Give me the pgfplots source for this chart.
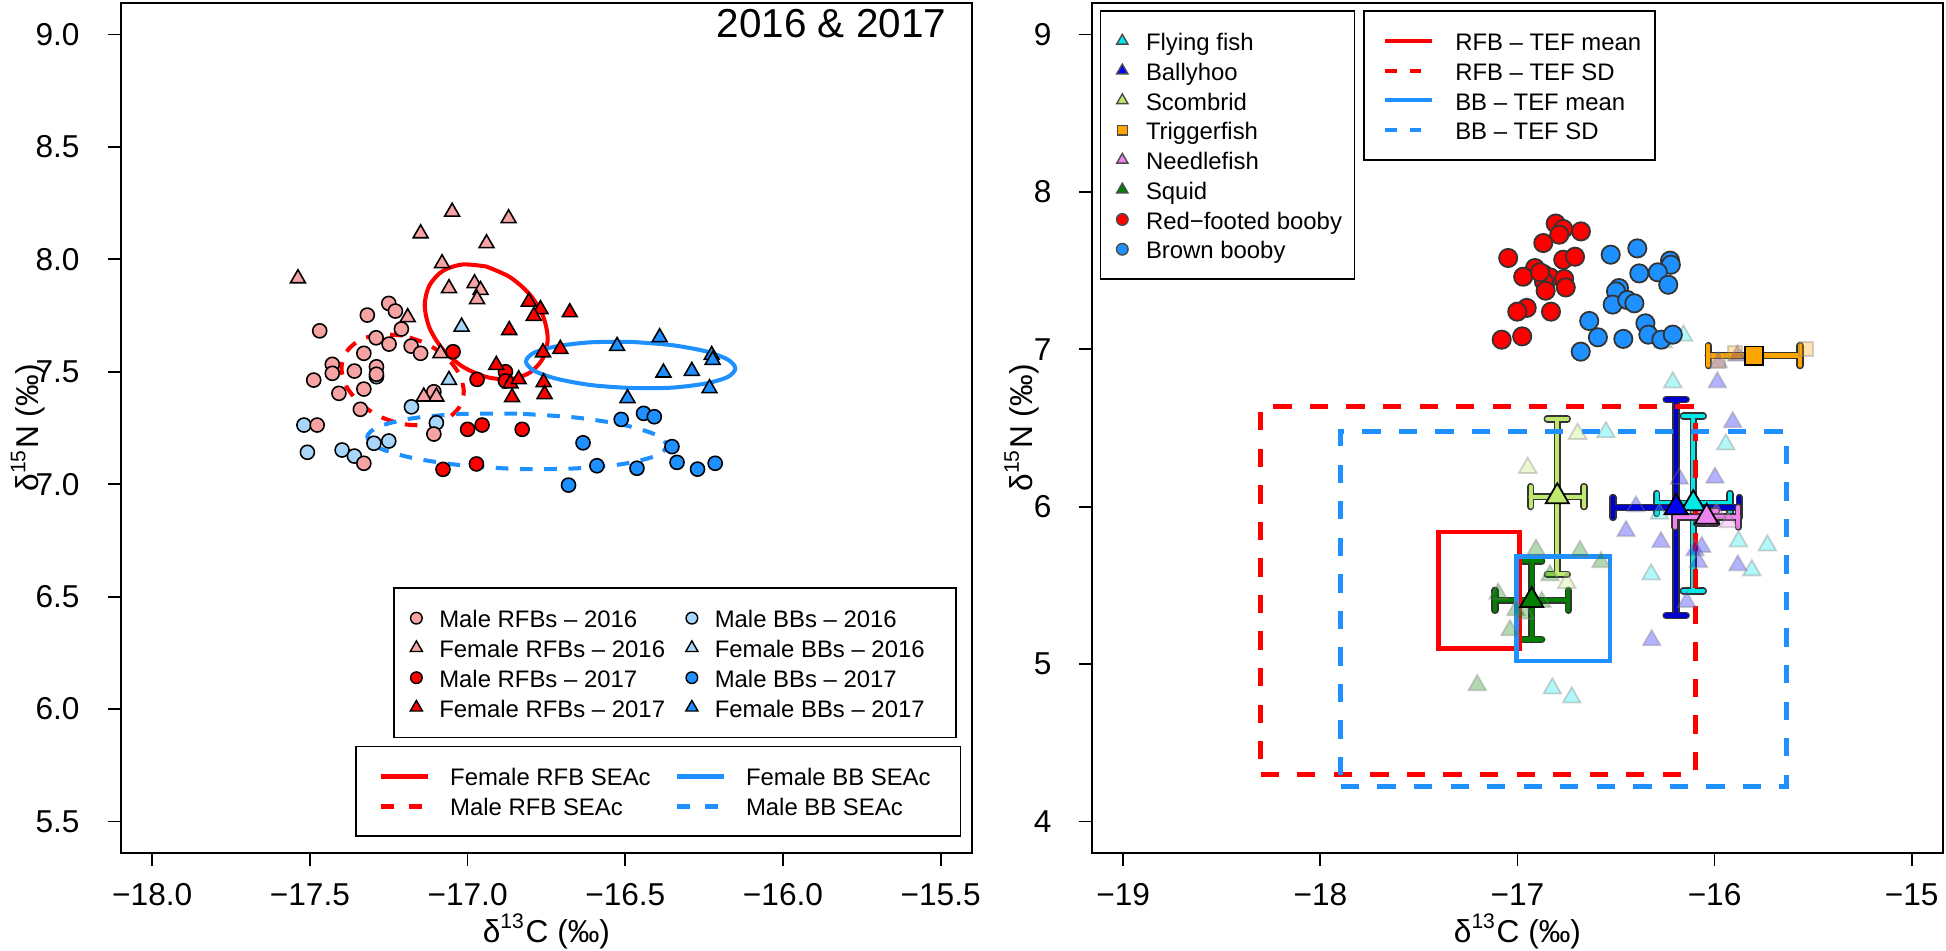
\documentclass[border=0pt]{standalone}
\usepackage{fontspec}
\setmainfont{Liberation Sans}
\usepackage{pgfplots}
\pgfplotsset{compat=1.18}
\definecolor{pinkc}{RGB}{248,163,163}
\definecolor{lblue}{RGB}{168,214,250}
\definecolor{dblue}{RGB}{30,144,255}
\definecolor{ffish}{RGB}{0,232,232}
\definecolor{bally}{RGB}{0,0,255}
\definecolor{ballyd}{RGB}{0,0,205}
\definecolor{scomb}{RGB}{190,232,110}
\definecolor{trig}{RGB}{255,165,0}
\definecolor{needle}{RGB}{238,130,238}
\definecolor{squid}{RGB}{0,128,0}
\newcommand\lstrut{\rule[-0.075cm]{0pt}{0.32cm}}
\pgfplotsset{
  panel/.style={scale only axis, width=8.515cm, height=8.5cm, anchor=south west,
    tick align=outside, major tick length=0.13cm, xtick pos=left, ytick pos=left,
    axis line style={line width=0.5pt}, tick style={line width=0.5pt, black},
    tick label style={font=\fontsize{9}{10}\selectfont},
    label style={font=\fontsize{9}{10}\selectfont},
    xticklabel style={anchor=base, inner sep=0pt, yshift=-0.40cm},
    yticklabel style={anchor=east, inner sep=0pt, xshift=-0.275cm},
    xlabel style={at={(axis description cs:0.5,-0.105)}, anchor=base},
  },
  legaxis/.style={scale only axis, width=8.515cm, height=8.5cm, anchor=south west,
    hide axis, xmin=0, xmax=1, ymin=0, ymax=1,
    legend cell align=left,
    legend style={draw=black, line width=0.45pt, fill=white, outer sep=0pt,
      column sep=0pt, row sep=0pt, font=\fontsize{6.8}{7}\selectfont, nodes={inner sep=0pt}}},
  m16/.style={only marks, mark=*, mark size=2.0pt, mark options={fill=#1, draw=black, line width=0.45pt}},
  t16/.style={only marks, mark=triangle*, mark size=2.45pt, mark options={fill=#1, draw=black, line width=0.45pt}},
  indiv/.style={only marks, mark=triangle*, mark size=2.9pt, mark options={fill=#1, fill opacity=0.3, draw=black!50, draw opacity=0.35, line width=0.5pt}},
  ebk/.style={black!80, line width=2.1pt, line cap=round, unbounded coords=jump, mark=none, forget plot},
  ecol/.style={#1, line width=1.2pt, line cap=round, unbounded coords=jump, mark=none, forget plot},
  meanm/.style={only marks, mark=triangle*, mark size=3.8pt, mark options={fill=#1, draw=black, line width=0.5pt}},
}
\begin{document}
\begin{tikzpicture}
\path[use as bounding box] (0,0) rectangle (19.46,9.51);

% ================= LEFT PANEL =================
\begin{axis}[panel, at={(1.207cm,0.98cm)},
  xmin=-18.1, xmax=-15.4, ymin=5.36, ymax=9.14,
  xtick={-18,-17.5,-17,-16.5,-16,-15.5}, xticklabels={−18.0,−17.5,−17.0,−16.5,−16.0,−15.5},
  ytick={5.5,6,6.5,7,7.5,8,8.5,9}, yticklabels={5.5,6.0,6.5,7.0,7.5,8.0,8.5,9.0},
  xlabel={δ\textsuperscript{13}C (‰)}, ylabel={δ\textsuperscript{15}N (‰)},
  ylabel style={at={(axis description cs:-0.1088,0.5)}, anchor=center},
  title={2016 \& 2017}, title style={at={(axis description cs:0.9702,0.9506)}, anchor=east, inner sep=0pt, font=\fontsize{11.5}{12}\selectfont},
]
% SEAc ellipses
\addplot[red, line width=1.15pt, smooth, forget plot] coordinates {
(-16.941,7.968) (-17.016,7.977) (-17.079,7.948) (-17.121,7.884) (-17.136,7.796) (-17.121,7.696)
(-17.079,7.600) (-17.016,7.523) (-16.941,7.477) (-16.866,7.467) (-16.803,7.496) (-16.761,7.560)
(-16.746,7.648) (-16.761,7.748) (-16.803,7.844) (-16.866,7.921) (-16.941,7.968)};
\addplot[dblue, line width=1.15pt, smooth, forget plot] coordinates {
(-16.483,7.633) (-16.610,7.631) (-16.718,7.613) (-16.790,7.584) (-16.815,7.546) (-16.790,7.505)
(-16.718,7.469) (-16.610,7.441) (-16.483,7.428) (-16.356,7.429) (-16.248,7.447) (-16.176,7.476)
(-16.151,7.515) (-16.176,7.555) (-16.248,7.592) (-16.356,7.619) (-16.483,7.633)};
\addplot[red, line width=1.15pt, smooth, dash pattern=on 3.6pt off 3.3pt, forget plot] coordinates {
(-17.206,7.661) (-17.280,7.665) (-17.343,7.640) (-17.385,7.587) (-17.400,7.516) (-17.385,7.437)
(-17.343,7.362) (-17.280,7.302) (-17.206,7.268) (-17.132,7.263) (-17.069,7.288) (-17.027,7.341)
(-17.012,7.412) (-17.027,7.491) (-17.069,7.566) (-17.132,7.626) (-17.206,7.661)};
\addplot[dblue, line width=1.15pt, smooth, dash pattern=on 3.6pt off 3.3pt, forget plot] coordinates {
(-16.843,7.314) (-17.025,7.312) (-17.179,7.292) (-17.282,7.256) (-17.318,7.211) (-17.282,7.162)
(-17.179,7.118) (-17.025,7.085) (-16.843,7.068) (-16.661,7.070) (-16.507,7.090) (-16.404,7.126)
(-16.368,7.171) (-16.404,7.220) (-16.507,7.264) (-16.661,7.297) (-16.843,7.314)};
% Male BBs 2016
\addplot[m16=lblue] coordinates {(-17.289,7.478) (-17.178,7.344) (-17.519,7.263) (-17.099,7.273) (-17.250,7.192) (-17.297,7.182) (-17.508,7.142) (-17.398,7.152) (-17.359,7.125)};
% Male RFBs 2016
\addplot[m16=pinkc] coordinates {(-17.250,7.804) (-17.229,7.770) (-17.318,7.752) (-17.469,7.682) (-17.210,7.690) (-17.290,7.651) (-17.249,7.623) (-17.179,7.614) (-17.149,7.582) (-17.329,7.582) (-17.429,7.533) (-17.289,7.522) (-17.359,7.503) (-17.429,7.493) (-17.488,7.463) (-17.289,7.489) (-17.329,7.423) (-17.408,7.404) (-17.107,7.411) (-17.340,7.333) (-17.477,7.263) (-17.107,7.223) (-17.329,7.093)};
% Female RFBs 2016
\addplot[t16=pinkc] coordinates {(-17.049,8.211) (-16.870,8.182) (-17.149,8.115) (-16.940,8.071) (-17.081,7.982) (-17.538,7.915) (-17.059,7.871) (-16.978,7.893) (-16.959,7.863) (-16.970,7.822) (-17.190,7.742) (-17.086,7.582) (-17.139,7.389) (-17.099,7.389)};
% Female BBs 2016
\addplot[t16=lblue] coordinates {(-17.019,7.700) (-17.059,7.463)};
% Male RFBs 2017
\addplot[m16=red] coordinates {(-17.046,7.589) (-16.970,7.466) (-16.880,7.500) (-16.880,7.459) (-17.000,7.244) (-16.954,7.263) (-16.827,7.244) (-17.078,7.066) (-16.972,7.090)};
% Male BBs 2017
\addplot[m16=dblue] coordinates {(-16.513,7.288) (-16.442,7.315) (-16.408,7.300) (-16.634,7.184) (-16.352,7.167) (-16.336,7.097) (-16.590,7.082) (-16.463,7.071) (-16.271,7.067) (-16.215,7.093) (-16.680,6.996)};
% Female RFBs 2017
\addplot[t16=red] coordinates {(-16.868,7.685) (-16.909,7.530) (-16.864,7.448) (-16.859,7.386) (-16.806,7.811) (-16.769,7.778) (-16.790,7.748) (-16.676,7.764) (-16.761,7.586) (-16.706,7.601) (-16.838,7.466) (-16.759,7.453) (-16.756,7.400)};
% Female BBs 2017
\addplot[t16=dblue] coordinates {(-16.526,7.614) (-16.391,7.653) (-16.226,7.574) (-16.223,7.552) (-16.379,7.496) (-16.289,7.503) (-16.233,7.426) (-16.493,7.382)};
\end{axis}

% left legend 1 (points)
\begin{axis}[legaxis, at={(1.207cm,0.98cm)}, legend columns=2,
  legend style={at={(axis description cs:0.3207,0.3114)}, anchor=north west, inner xsep=0.126cm, inner ysep=0.15cm},
  legend image code/.code={\path[draw=none,fill=none] (0cm,-0.05cm) rectangle (0.329cm,0.05cm); \draw[#1] plot coordinates {(0.1cm,0cm)};}]
\addlegendimage{mark=*, mark size=1.65pt, mark options={fill=pinkc, draw=black, line width=0.4pt}}
\addlegendentry{\makebox[2.426cm][l]{\lstrut Male RFBs – 2016}}
\addlegendimage{mark=*, mark size=1.65pt, mark options={fill=lblue, draw=black, line width=0.4pt}}
\addlegendentry{\makebox[2.285cm][l]{\lstrut Male BBs – 2016}}
\addlegendimage{mark=triangle*, mark size=2.0pt, mark options={fill=pinkc, draw=black, line width=0.4pt}}
\addlegendentry{\makebox[2.426cm][l]{\lstrut Female RFBs – 2016}}
\addlegendimage{mark=triangle*, mark size=2.0pt, mark options={fill=lblue, draw=black, line width=0.4pt}}
\addlegendentry{\makebox[2.285cm][l]{\lstrut Female BBs – 2016}}
\addlegendimage{mark=*, mark size=1.65pt, mark options={fill=red, draw=black, line width=0.4pt}}
\addlegendentry{\makebox[2.426cm][l]{\lstrut Male RFBs – 2017}}
\addlegendimage{mark=*, mark size=1.65pt, mark options={fill=dblue, draw=black, line width=0.4pt}}
\addlegendentry{\makebox[2.285cm][l]{\lstrut Male BBs – 2017}}
\addlegendimage{mark=triangle*, mark size=2.0pt, mark options={fill=red, draw=black, line width=0.4pt}}
\addlegendentry{\makebox[2.426cm][l]{\lstrut Female RFBs – 2017}}
\addlegendimage{mark=triangle*, mark size=2.0pt, mark options={fill=dblue, draw=black, line width=0.4pt}}
\addlegendentry{\makebox[2.285cm][l]{\lstrut Female BBs – 2017}}
\end{axis}

% left legend 2 (lines)
\begin{axis}[legaxis, at={(1.207cm,0.98cm)}, legend columns=2,
  legend style={at={(axis description cs:0.2762,0.1253)}, anchor=north west, inner xsep=0.223cm, inner ysep=0.15cm},
  legend image code/.code={\path[draw=none,fill=none] (0cm,-0.05cm) rectangle (0.695cm,0.05cm); \draw[#1] (0cm,0cm) -- (0.472cm,0cm);}]
\addlegendimage{red, line width=1.4pt}
\addlegendentry{\makebox[2.239cm][l]{\lstrut Female RFB SEAc}}
\addlegendimage{dblue, line width=1.4pt}
\addlegendentry{\makebox[1.92cm][l]{\lstrut Female BB SEAc}}
\addlegendimage{red, line width=1.4pt, dash pattern=on 3.8pt off 4.3pt}
\addlegendentry{\makebox[2.239cm][l]{\lstrut Male RFB SEAc}}
\addlegendimage{dblue, line width=1.4pt, dash pattern=on 3.8pt off 4.3pt}
\addlegendentry{\makebox[1.92cm][l]{\lstrut Male BB SEAc}}
\end{axis}

% ================= RIGHT PANEL =================
\begin{axis}[panel, at={(10.917cm,0.98cm)},
  xmin=-19.16, xmax=-14.84, ymin=3.8, ymax=9.2,
  xtick={-19,-18,-17,-16,-15}, xticklabels={−19,−18,−17,−16,−15},
  ytick={4,5,6,7,8,9}, yticklabels={4,5,6,7,8,9},
  yticklabel style={xshift=0.01cm},
  xlabel={δ\textsuperscript{13}C (‰)}, ylabel={δ\textsuperscript{15}N (‰)},
  ylabel style={at={(axis description cs:-0.0822,0.5)}, anchor=center},
]
% individual prey samples
\addplot[indiv=squid] coordinates {(-16.906,5.727) (-16.683,5.718) (-16.576,5.648) (-16.835,5.564) (-17.098,5.448) (-16.877,5.395) (-17.008,5.342) (-16.962,5.321) (-17.038,5.215) (-17.204,4.866)};
\addplot[indiv=scomb] coordinates {(-16.695,6.463) (-16.948,6.247) (-16.750,5.515)};
\addplot[indiv=bally] coordinates {(-15.986,6.790) (-15.981,6.917) (-15.884,6.960) (-15.908,6.537) (-15.998,6.184) (-16.179,6.178) (-16.399,6.002) (-16.449,5.845) (-16.272,5.775) (-16.065,5.744) (-16.099,5.723) (-16.082,5.648) (-15.882,5.627) (-16.141,5.395) (-16.319,5.152)};
\addplot[indiv=ffish] coordinates {(-16.158,7.087) (-16.26,7.044) (-16.212,6.790) (-16.551,6.473) (-15.943,6.395) (-16.280,5.955) (-15.879,5.780) (-15.732,5.754) (-15.811,5.596) (-16.322,5.570) (-16.823,4.845) (-16.725,4.788)};
\addplot[indiv=needle] coordinates {(-15.930,5.902) (-15.990,5.960)};
\addplot[only marks, mark=square*, mark size=2.0pt, mark options={fill=trig, fill opacity=0.3, draw=black!50, draw opacity=0.35, line width=0.5pt}] coordinates {(-15.536,7.002) (-15.896,6.975) (-15.981,6.928)};
% boobies
\addplot[only marks, mark=*, mark size=2.6pt, mark options={fill=red, draw=black!80, line width=0.5pt}] coordinates {
(-16.806,7.799) (-16.768,7.764) (-16.788,7.728) (-16.678,7.749) (-16.869,7.675) (-17.047,7.580) (-16.768,7.569) (-16.708,7.588) (-16.911,7.516) (-16.971,7.461) (-16.869,7.478) (-16.835,7.457) (-16.866,7.431) (-16.763,7.447) (-16.755,7.393) (-16.857,7.372) (-16.953,7.263) (-17.001,7.239) (-16.830,7.239) (-17.080,7.061) (-16.976,7.082) (-16.886,7.489)};
\addplot[only marks, mark=*, mark size=2.6pt, mark options={fill=dblue, draw=black!80, line width=0.5pt}] coordinates {
(-16.527,7.601) (-16.392,7.641) (-16.226,7.563) (-16.222,7.537) (-16.382,7.482) (-16.288,7.489) (-16.235,7.410) (-16.485,7.389) (-16.500,7.368) (-16.517,7.284) (-16.443,7.313) (-16.407,7.292) (-16.636,7.180) (-16.351,7.165) (-16.336,7.093) (-16.270,7.061) (-16.212,7.093) (-16.592,7.076) (-16.463,7.066) (-16.679,6.985)};
% prey means with SD bars (bar, caps)
% flying fish
\addplot[ebk] coordinates {(-16.294,6.02) (-15.922,6.02) (nan,nan) (-16.108,5.465) (-16.108,6.575) (nan,nan) (-16.294,5.9565) (-16.294,6.0835) (nan,nan) (-15.922,5.9565) (-15.922,6.0835) (nan,nan) (-16.1588,5.465) (-16.0572,5.465) (nan,nan) (-16.1588,6.575) (-16.0572,6.575)};
\addplot[ecol=ffish] coordinates {(-16.294,6.02) (-15.922,6.02) (nan,nan) (-16.108,5.465) (-16.108,6.575) (nan,nan) (-16.294,5.9565) (-16.294,6.0835) (nan,nan) (-15.922,5.9565) (-15.922,6.0835) (nan,nan) (-16.1588,5.465) (-16.0572,5.465) (nan,nan) (-16.1588,6.575) (-16.0572,6.575)};
\addplot[meanm=ffish] coordinates {(-16.108,6.02)};
% ballyhoo
\addplot[ebk] coordinates {(-16.515,5.995) (-15.875,5.995) (nan,nan) (-16.195,5.309) (-16.195,6.681) (nan,nan) (-16.515,5.9315) (-16.515,6.0585) (nan,nan) (-15.875,5.9315) (-15.875,6.0585) (nan,nan) (-16.2458,5.309) (-16.1442,5.309) (nan,nan) (-16.2458,6.681) (-16.1442,6.681)};
\addplot[ecol=ballyd] coordinates {(-16.515,5.995) (-15.875,5.995) (nan,nan) (-16.195,5.309) (-16.195,6.681) (nan,nan) (-16.515,5.9315) (-16.515,6.0585) (nan,nan) (-15.875,5.9315) (-15.875,6.0585) (nan,nan) (-16.2458,5.309) (-16.1442,5.309) (nan,nan) (-16.2458,6.681) (-16.1442,6.681)};
\addplot[meanm=bally] coordinates {(-16.195,5.995)};
% scombrid
\addplot[ebk] coordinates {(-16.933,6.064) (-16.663,6.064) (nan,nan) (-16.798,5.570) (-16.798,6.558) (nan,nan) (-16.933,6.0005) (-16.933,6.1275) (nan,nan) (-16.663,6.0005) (-16.663,6.1275) (nan,nan) (-16.8488,5.570) (-16.7472,5.570) (nan,nan) (-16.8488,6.558) (-16.7472,6.558)};
\addplot[ecol=scomb] coordinates {(-16.933,6.064) (-16.663,6.064) (nan,nan) (-16.798,5.570) (-16.798,6.558) (nan,nan) (-16.933,6.0005) (-16.933,6.1275) (nan,nan) (-16.663,6.0005) (-16.663,6.1275) (nan,nan) (-16.8488,5.570) (-16.7472,5.570) (nan,nan) (-16.8488,6.558) (-16.7472,6.558)};
\addplot[meanm=scomb] coordinates {(-16.798,6.064)};
% triggerfish
\addplot[ebk] coordinates {(-16.032,6.96) (-15.566,6.96) (nan,nan) (-16.032,6.8965) (-16.032,7.0235) (nan,nan) (-15.566,6.8965) (-15.566,7.0235)};
\addplot[ecol=trig] coordinates {(-16.032,6.96) (-15.566,6.96) (nan,nan) (-16.032,6.8965) (-16.032,7.0235) (nan,nan) (-15.566,6.8965) (-15.566,7.0235)};
\addplot[only marks, mark=square*, mark size=2.6pt, mark options={fill=trig, draw=black, line width=0.5pt}] coordinates {(-15.799,6.96)};
% needlefish
\addplot[ebk] coordinates {(-16.2,5.934) (-15.88,5.934) (nan,nan) (-16.04,5.894) (-16.04,5.974) (nan,nan) (-16.2,5.8705) (-16.2,5.9975) (nan,nan) (-15.88,5.8705) (-15.88,5.9975) (nan,nan) (-16.0908,5.894) (-15.9892,5.894) (nan,nan) (-16.0908,5.974) (-15.9892,5.974)};
\addplot[ecol=needle] coordinates {(-16.2,5.934) (-15.88,5.934) (nan,nan) (-16.04,5.894) (-16.04,5.974) (nan,nan) (-16.2,5.8705) (-16.2,5.9975) (nan,nan) (-15.88,5.8705) (-15.88,5.9975) (nan,nan) (-16.0908,5.894) (-15.9892,5.894) (nan,nan) (-16.0908,5.974) (-15.9892,5.974)};
\addplot[meanm=needle] coordinates {(-16.04,5.934)};
% squid
\addplot[ebk] coordinates {(-17.114,5.405) (-16.742,5.405) (nan,nan) (-16.928,5.156) (-16.928,5.654) (nan,nan) (-17.114,5.3415) (-17.114,5.4685) (nan,nan) (-16.742,5.3415) (-16.742,5.4685) (nan,nan) (-16.9788,5.156) (-16.8772,5.156) (nan,nan) (-16.9788,5.654) (-16.8772,5.654)};
\addplot[ecol=squid] coordinates {(-17.114,5.405) (-16.742,5.405) (nan,nan) (-16.928,5.156) (-16.928,5.654) (nan,nan) (-17.114,5.3415) (-17.114,5.4685) (nan,nan) (-16.742,5.3415) (-16.742,5.4685) (nan,nan) (-16.9788,5.156) (-16.8772,5.156) (nan,nan) (-16.9788,5.654) (-16.8772,5.654)};
\addplot[meanm=squid] coordinates {(-16.928,5.405)};
% TEF boxes
\addplot[red, line width=1.3pt, line join=miter, forget plot] coordinates {(-17.2,5.099) (-16.991,5.099) (-16.991,5.839) (-17.402,5.839) (-17.402,5.099) (-17.2,5.099)};
\addplot[dblue, line width=1.3pt, line join=miter, forget plot] coordinates {(-16.77,5.020) (-16.531,5.020) (-16.531,5.685) (-17.004,5.685) (-17.004,5.020) (-16.77,5.020)};
\addplot[red, line width=1.4pt, dash pattern=on 5.2pt off 5.2pt, forget plot] coordinates {(-18.303,4.301) (-16.097,4.301) (-16.097,6.636) (-18.303,6.636) (-18.303,4.301)};
\addplot[dblue, line width=1.4pt, dash pattern=on 5.2pt off 5.2pt, forget plot] coordinates {(-17.896,4.225) (-15.636,4.225) (-15.636,6.480) (-17.896,6.480) (-17.896,4.225)};
\end{axis}

% right legend 1 (points)
\begin{axis}[legaxis, at={(10.917cm,0.98cm)},
  legend style={at={(axis description cs:0.0101,0.9906)}, anchor=north west, inner xsep=0.124cm, inner ysep=0.15cm},
  legend image code/.code={\path[draw=none,fill=none] (0cm,-0.05cm) rectangle (0.333cm,0.05cm); \draw[#1] plot coordinates {(0.096cm,0cm)};}]
\addlegendimage{mark=triangle*, mark size=1.85pt, mark options={fill=ffish, draw=black!70, line width=0.4pt}}
\addlegendentry{\makebox[1.96cm][l]{\lstrut Flying fish}}
\addlegendimage{mark=triangle*, mark size=1.85pt, mark options={fill=bally, draw=black!70, line width=0.4pt}}
\addlegendentry{\makebox[1.96cm][l]{\lstrut Ballyhoo}}
\addlegendimage{mark=triangle*, mark size=1.85pt, mark options={fill=scomb, draw=black!70, line width=0.4pt}}
\addlegendentry{\makebox[1.96cm][l]{\lstrut Scombrid}}
\addlegendimage{mark=square*, mark size=1.4pt, mark options={fill=trig, draw=black!70, line width=0.4pt}}
\addlegendentry{\makebox[1.96cm][l]{\lstrut Triggerfish}}
\addlegendimage{mark=triangle*, mark size=1.85pt, mark options={fill=needle, draw=black!70, line width=0.4pt}}
\addlegendentry{\makebox[1.96cm][l]{\lstrut Needlefish}}
\addlegendimage{mark=triangle*, mark size=1.85pt, mark options={fill=squid, draw=black!70, line width=0.4pt}}
\addlegendentry{\makebox[1.96cm][l]{\lstrut Squid}}
\addlegendimage{mark=*, mark size=1.65pt, mark options={fill=red, draw=black!70, line width=0.4pt}}
\addlegendentry{\makebox[1.96cm][l]{\lstrut Red−footed booby}}
\addlegendimage{mark=*, mark size=1.65pt, mark options={fill=dblue, draw=black!70, line width=0.4pt}}
\addlegendentry{\makebox[1.96cm][l]{\lstrut Brown booby}}
\end{axis}

% right legend 2 (lines)
\begin{axis}[legaxis, at={(10.917cm,0.98cm)},
  legend style={at={(axis description cs:0.3196,0.9906)}, anchor=north west, inner xsep=0.12cm, inner ysep=0.15cm},
  legend image code/.code={\path[draw=none,fill=none] (0cm,-0.05cm) rectangle (0.794cm,0.05cm); \draw[#1] (0.094cm,0cm) -- (0.565cm,0cm);}]
\addlegendimage{red, line width=1.2pt}
\addlegendentry{\makebox[1.88cm][l]{\lstrut RFB – TEF mean}}
\addlegendimage{red, line width=1.2pt, dash pattern=on 3.3pt off 3.7pt}
\addlegendentry{\makebox[1.88cm][l]{\lstrut RFB – TEF SD}}
\addlegendimage{dblue, line width=1.2pt}
\addlegendentry{\makebox[1.88cm][l]{\lstrut BB – TEF mean}}
\addlegendimage{dblue, line width=1.2pt, dash pattern=on 3.3pt off 3.7pt}
\addlegendentry{\makebox[1.88cm][l]{\lstrut BB – TEF SD}}
\end{axis}
\end{tikzpicture}
\end{document}
